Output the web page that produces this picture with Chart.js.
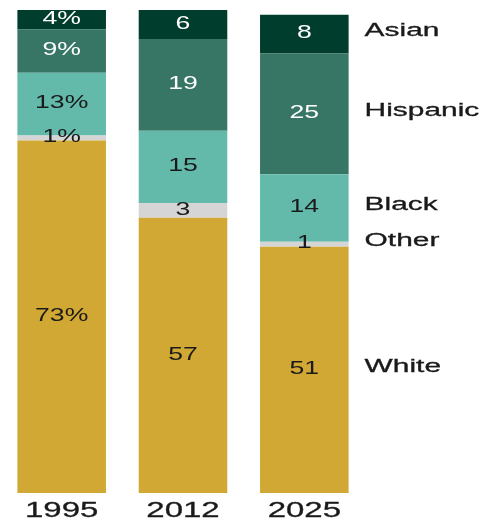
<!DOCTYPE html>
<html>
<head>
<meta charset="utf-8">
<script src="https://cdn.jsdelivr.net/npm/chart.js@4/dist/chart.umd.min.js"></script>
<style>
  body { margin: 0; background: #fff; }
  #wrap { width: 492px; height: 523px; }
</style>
</head>
<body>
<div id="wrap"><canvas id="chart" width="492" height="523"></canvas></div>
<script>
const years = ['1995', '2012', '2025'];
const groups = ['White', 'Other', 'Black', 'Hispanic', 'Asian'];
const white = [73, 57, 51];
const other = [1, 3, 1];
const black = [13, 15, 14];
const hispanic = [9, 19, 25];
const asian = [4, 6, 8];

const colors = ['#d1a834', '#d5d5d5', '#63baab', '#377565', '#003d2c'];
const labelColors = ['#1a1a1a', '#1a1a1a', '#1a1a1a', '#ffffff', '#ffffff'];
const font = '"Liberation Sans", Arial, sans-serif';

// the original type is a wide grotesque, so text is stretched sideways
function wideText(ctx, text, x, y, align, sx, thick) {
    ctx.save();
    ctx.translate(x, y);
    ctx.scale(sx, 1);
    ctx.textAlign = align;
    ctx.textBaseline = 'middle';
    ctx.fillText(text, 0, 0);
    if (thick) {
        ctx.lineWidth = thick;
        ctx.strokeStyle = ctx.fillStyle;
        ctx.strokeText(text, 0, 0);
    }
    ctx.restore();
}

// value labels inside the bars, group names right of the last bar, years below
const barLabels = {
    id: 'barLabels',
    afterDatasetsDraw(chart) {
        const ctx = chart.ctx;
        chart.data.datasets.forEach((ds, di) => {
            const meta = chart.getDatasetMeta(di);
            meta.data.forEach((bar, i) => {
                ctx.font = '19px ' + font;
                ctx.fillStyle = labelColors[di];
                wideText(ctx, ds.data[i] + (i == 0 ? '%' : ''), bar.x, (bar.y + bar.base) / 2 - 1, 'center', 1.4, 0);
            });
            const last = meta.data[meta.data.length - 1];
            ctx.font = '18px ' + font;
            ctx.fillStyle = '#1a1a1a';
            wideText(ctx, ds.label, last.x + last.width / 2 + 16, (last.y + last.base) / 2 - 3, 'left', 1.66, 0.3);
        });
        const xs = chart.scales.x;
        ctx.font = '22px ' + font;
        ctx.fillStyle = '#1a1a1a';
        years.forEach((y, i) => {
            wideText(ctx, y, xs.getPixelForTick(i), chart.chartArea.bottom + 18, 'center', 1.5, 0.3);
        });
    }
};

const ctx = document.getElementById('chart').getContext('2d');
const myChart = new Chart(ctx, {
    type: 'bar',
    data: {
        labels: years,
        datasets: [white, other, black, hispanic, asian].map((d, i) => ({
            label: groups[i],
            data: d,
            backgroundColor: colors[i],
            borderWidth: 0
        }))
    },
    options: {
        responsive: false,
        animation: false,
        events: [],
        barPercentage: 0.73,
        categoryPercentage: 1,
        layout: { padding: { left: 1, right: 127, top: 10, bottom: 30 } },
        plugins: {
            legend: { display: false },
            tooltip: { enabled: false }
        },
        scales: {
            x: {
                stacked: true,
                grid: { display: false, drawTicks: false },
                border: { display: false },
                ticks: { display: false }
            },
            y: {
                stacked: true,
                display: false,
                min: 0,
                max: 100
            }
        }
    },
    plugins: [barLabels]
});
</script>
</body>
</html>
